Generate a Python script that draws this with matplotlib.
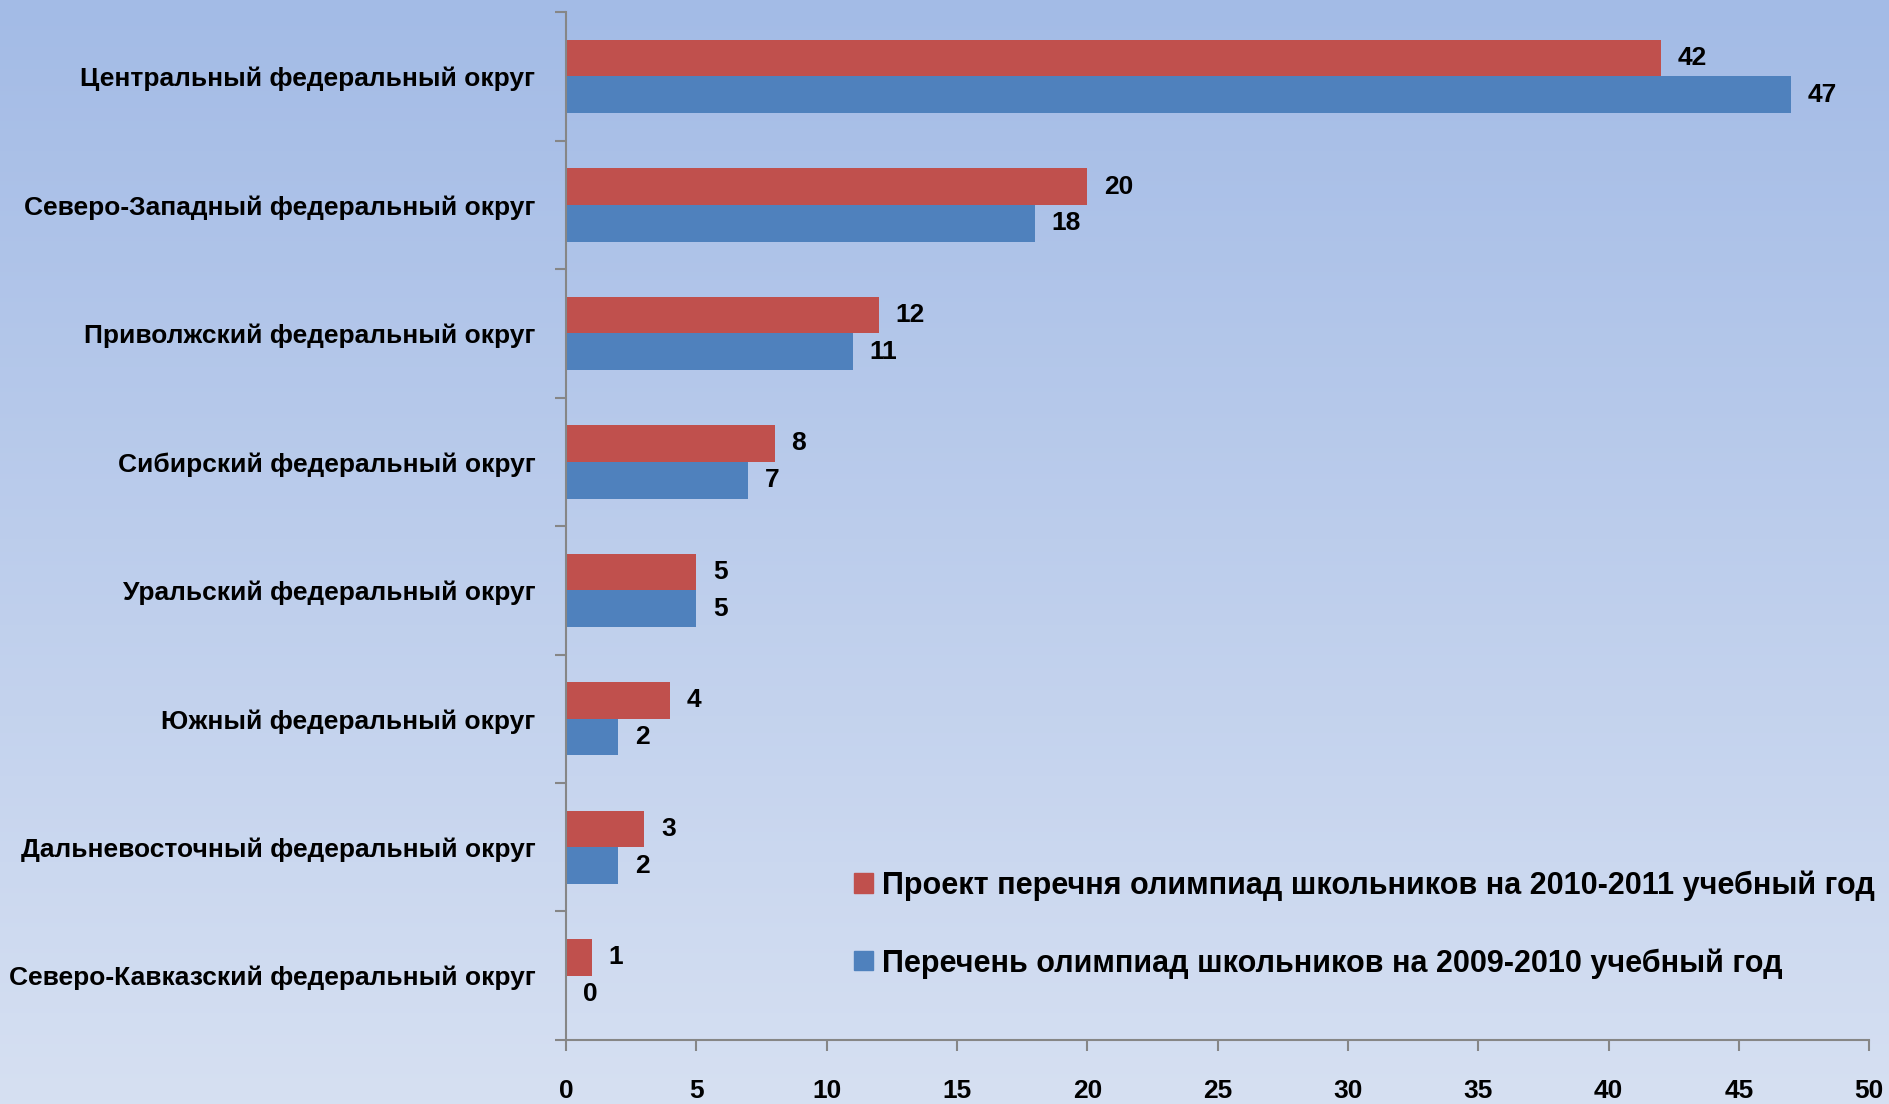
import numpy as np
import matplotlib
matplotlib.use('Agg')
import matplotlib.pyplot as plt
from matplotlib.patches import Patch

# Data
districts = [
    'Центральный федеральный округ',
    'Северо-Западный федеральный округ',
    'Приволжский федеральный округ',
    'Сибирский федеральный округ',
    'Уральский федеральный округ',
    'Южный федеральный округ',
    'Дальневосточный федеральный округ',
    'Северо-Кавказский федеральный округ',
]
project_2010 = [42, 20, 12, 8, 5, 4, 3, 1]
list_2009 = [47, 18, 11, 7, 5, 2, 2, 0]
label_2010 = 'Проект перечня олимпиад школьников на 2010-2011 учебный год'
label_2009 = 'Перечень олимпиад школьников на 2009-2010 учебный год'
x_ticks = list(range(0, 51, 5))

RED = '#C0504D'
BLUE = '#4F81BD'
AXIS = '#868686'
FONT = ['Liberation Sans Narrow', 'Liberation Sans', 'DejaVu Sans']
plt.rcParams['font.family'] = FONT
plt.rcParams['font.weight'] = 'bold'

fig = plt.figure(figsize=(18.9, 11.04), dpi=100)

# Background gradient
bg = fig.add_axes([0, 0, 1, 1], zorder=-10)
top = np.array([163, 187, 230]) / 255
bottom = np.array([214, 224, 242]) / 255
t = np.linspace(0, 1, 256)[:, None]
grad = (top * (1 - t) + bottom * t)[:, None, :]
bg.imshow(grad, aspect='auto', extent=[0, 1, 0, 1])
bg.axis('off')

ax = fig.add_axes([0.2995, 0.058, 0.6895, 0.931])
ax.patch.set_alpha(0)

y = np.arange(len(districts))
w = 1 / 3.5
bars_r = ax.barh(y - w / 2, project_2010, height=w, color=RED, label=label_2010)
bars_b = ax.barh(y + w / 2, list_2009, height=w, color=BLUE, label=label_2009)

for bars, vals in ((bars_r, project_2010), (bars_b, list_2009)):
    for b, v in zip(bars, vals):
        ax.annotate(str(v), (b.get_width(), b.get_y() + b.get_height() / 2),
                    xytext=(12, 0), textcoords='offset points',
                    ha='left', va='center', fontsize=19, fontweight='bold')

ax.set_xlim(0, 50)
ax.set_ylim(len(districts) - 0.5, -0.5)
ax.set_xticks(x_ticks)
ax.set_xticklabels([str(v) for v in x_ticks], fontsize=19, fontweight='bold')
ax.tick_params(axis='x', direction='out', length=8, width=1.5, color=AXIS, pad=20)

ax.set_yticks(np.arange(-0.5, len(districts)), labels=[''] * (len(districts) + 1))
ax.set_yticks(y, labels=districts, minor=True)
ax.tick_params(axis='y', which='major', direction='out', length=8, width=1.5, color=AXIS)
ax.tick_params(axis='y', which='minor', length=0, pad=22, labelsize=19)
for lbl in ax.get_yticklabels(minor=True):
    lbl.set_fontweight('bold')

for side in ('top', 'right'):
    ax.spines[side].set_visible(False)
for side in ('left', 'bottom'):
    ax.spines[side].set_color(AXIS)
    ax.spines[side].set_linewidth(1.5)

handles = [Patch(color=RED), Patch(color=BLUE)]
ax.legend(handles, [label_2010, label_2009], loc='lower left',
          bbox_to_anchor=(0.2, 0.033), frameon=False,
          handlelength=0.6, handleheight=0.6, handletextpad=0.3,
          labelspacing=1.55, prop={'family': FONT, 'weight': 'bold', 'size': 22})

fig.savefig('out.png', dpi=100)
